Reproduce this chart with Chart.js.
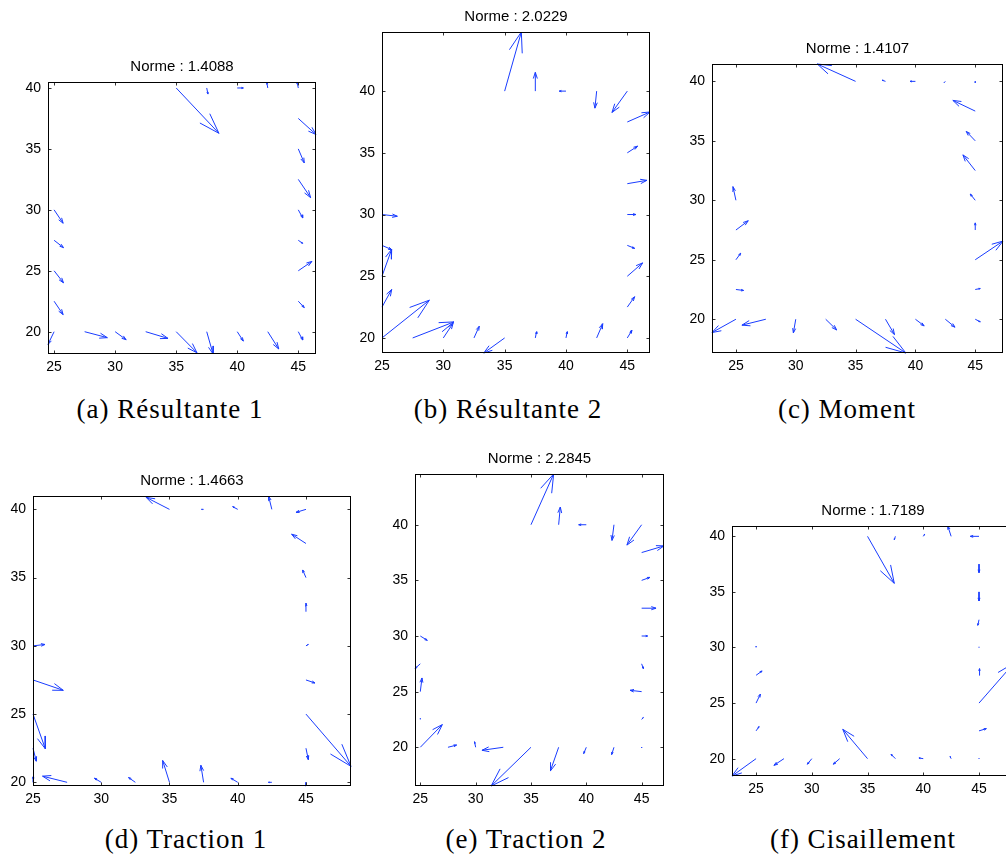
<!DOCTYPE html>
<html>
<head>
<meta charset="utf-8">
<script src="https://cdn.jsdelivr.net/npm/chart.js@4.4.1/dist/chart.umd.min.js"></script>
<style>
  html, body { margin: 0; padding: 0; background: #fff; width: 1006px; height: 860px; overflow: hidden; }
  canvas { position: absolute; }
  .cap {
    position: absolute;
    font-family: "Liberation Serif", serif;
    font-size: 27px;
    line-height: 27px;
    letter-spacing: 1px;
    white-space: nowrap;
    transform: translateX(-50%);
    color: #000;
  }
</style>
</head>
<body>

<script>
// points on the border of the square, where the arrows start
// bottom row, right column, top row, left column
const px = [25, 27.5, 30, 32.5, 35, 37.5, 40, 42.5, 45,
            45, 45, 45, 45, 45, 45, 45, 45,
            42.5, 40, 37.5, 35, 32.5, 30, 27.5, 25,
            25, 25, 25, 25, 25, 25, 25];
const py = [20, 20, 20, 20, 20, 20, 20, 20, 20,
            22.5, 25, 27.5, 30, 32.5, 35, 37.5, 40,
            40, 40, 40, 40, 40, 40, 40, 40,
            37.5, 35, 32.5, 30, 27.5, 25, 22.5];

// (a) Resultante 1
const uA = [-0.5, 1.86, 0.9, 1.83, 1.7, 0.52, 0.5, 0.9, 0.36,
            0.49, 1.12, 0.36, 0.36, 1.01, 0.49, 1.45, -0.1,
            -0.08, 0.5, 0.1, 3.5, 0, 0, 0, 0,
            0, 0, 0, 0.74, 0.77, 0.77, 0.74];
const vA = [-1.04, -0.49, -0.66, -0.55, -1.73, -1.83, -0.77, -1.42, -0.68,
            -0.52, 0.77, -0.25, -0.66, -1.5, -1.15, -1.32, 0.49,
            0.45, 0, -0.5, -3.72, 0, 0, 0, 0,
            0, 0, 0, -1.1, -0.6, -0.99, -1.1];

// (b) Resultante 2
const uB = [3.86, 3.37, 0.8, 0.43, -1.7, 0.1, 0.1, 0.5, 0.38,
            0.6, 1.25, 0.6, 0.7, 1.6, 0.84, 1.85, -1.25,
            -0.14, -0.55, 0, 1.36, 0, 0, 0, 0,
            0, 0, 0, 1.25, 0.8, 0.79, 0.79];
const vB = [3.06, 1.3, 1.2, 0.95, -1.22, 0.5, 0.5, 1.15, 0.62,
            0.84, 1.08, -0.24, 0, 0.27, 0.54, 0.81, -1.73,
            -1.38, 0, 1.52, 4.79, 0, 0, 0, 0,
            0, 0, 0, -0.14, -0.35, 2.19, 1.43];

// (c) Moment
const uC = [-2.0, -2.0, -0.2, 0.92, 4.2, 0.75, 0.73, 0.81, 0.42,
            0.42, 2.32, 0, -0.42, -1.03, -0.75, -1.87, 0,
            -0.1, -0.45, -0.28, -3.2, 0, 0, 0, 0,
            0, 0, 0, -0.25, 1.03, 0.4, 0.64];
const vC = [-1.12, -0.5, -1.15, -0.9, -2.84, -1.29, -0.56, -0.67, -0.22,
            0.08, 1.57, 0.6, 0.53, 1.32, 0.79, 0.9, -0.1,
            -0.1, 0, 0.1, 1.46, 0, 0, 0, 0,
            0, 0, 0, 1.15, 0.78, 0.55, -0.08];

// (d) Traction 1
const uD = [0, -1.8, -0.5, -0.5, -0.5, -0.2, -0.5, -0.25, 0,
            0.17, 3.3, 0.66, 0.17, 0, -0.24, -1.05, -0.73,
            -0.24, -0.37, -0.15, -1.71, 0, 0, 0, 0,
            0, 0, 0, 0.88, 2.22, 0.9, 0.24];
const vD = [0.4, 0.45, 0.3, 0.35, 1.6, 1.25, 0.3, 0, -0.27,
            -0.83, -3.83, -0.22, 0.1, 0.63, 0.56, 0.68, -0.22,
            0.98, 0.2, 0, 0.88, 0, 0, 0, 0,
            0, 0, 0, 0.1, -0.76, -2.54, -0.95];

// (e) Traction 2
const uE = [1.99, 0.78, -0.1, -1.93, -3.6, -0.75, -0.24, -0.21, 0,
            0.15, -1.05, 0.15, 0.54, 1.3, 0.75, 2.02, -1.33,
            -0.18, -0.69, 0.15, 2.05, 0, 0, 0, 0,
            0, 0, 0, 0.63, -0.48, 0.15, 0];
const vE = [2.04, 0.2, 0.5, -0.27, -3.48, -2.13, -0.57, -0.66, -0.05,
            0.18, 0.12, -0.42, 0, 0, 0.27, 0.6, -1.83,
            -1.41, 0, 1.59, 4.56, 0, 0, 0, 0,
            0, 0, 0, -0.39, -0.42, 1.23, 0.1];

// (f) Cisaillement
const uF = [-2.16, -0.9, -0.4, -0.57, -2.22, -0.39, -0.39, -0.1, 0,
            0.66, 3.14, 0.05, 0, -0.1, 0, 0, -0.78,
            -0.3, 0.12, -0.1, 2.4, 0, 0, 0, 0,
            0, 0, 0, 0, 0.54, 0.39, 0.27];
const vF = [-1.56, -0.6, -0.5, -0.5, 2.64, 0.39, 0.06, 0.2, 0.05,
            0.2, 3.6, 0.6, 0.05, -0.5, -0.8, -0.75, 0,
            0.93, 0.18, -0.3, -4.23, 0, 0, 0, 0,
            0, 0, 0, 0.1, 0.39, 0.81, 0.39];

const xTicks = [25, 30, 35, 40, 45];
const yTicks = [20, 25, 30, 35, 40];

const titles = ['Norme : 1.4088', 'Norme : 2.0229', 'Norme : 1.4107',
                'Norme : 1.4663', 'Norme : 2.2845', 'Norme : 1.7189'];
const captions = ['(a) Résultante 1', '(b) Résultante 2', '(c) Moment',
                  '(d) Traction 1', '(e) Traction 2', '(f) Cisaillement'];

// axis limits (tight around the arrows, like matlab)
const xLims = [[24.5, 46.45], [25, 46.85], [23, 47.32], [25, 48.3], [24.52, 47.02], [22.84, 48.14]];
const yLims = [[18.17, 40.49], [18.78, 44.79], [17.16, 41.46], [19.73, 40.98], [16.52, 44.56], [18.44, 40.93]];

const us = [uA, uB, uC, uD, uE, uF];
const vs = [vA, vB, vC, vD, vE, vF];

// where each plot box sits on the page: left, top, right, bottom
const boxes = [[48, 82, 316, 354], [382, 32, 650, 353], [712, 64, 1003, 353],
               [33, 496, 351, 786], [415, 474, 664, 786], [732, 526, 1014, 776]];
const capPos = [[170, 396], [508, 396], [847, 396], [186, 826], [526, 826], [863, 826]];

const BLUE = 'rgb(25,60,255)';
const Y_W = 40, X_H = 24, T_H = 23, PAD_R = 4;

// matlab style arrows : shaft + two head lines, gaps in between
function arrowData(u, v) {
  const a = 0.33, b = 0.33;
  let pts = [];
  for (let i = 0; i < px.length; i++) {
    if (u[i] === 0 && v[i] === 0) continue;
    let x1 = px[i] + u[i], y1 = py[i] + v[i];
    pts.push({ x: px[i], y: py[i] }, { x: x1, y: y1 }, { x: x1, y: null });
    pts.push({ x: x1 - a * (u[i] + b * v[i]), y: y1 - a * (v[i] - b * u[i]) });
    pts.push({ x: x1, y: y1 });
    pts.push({ x: x1 - a * (u[i] - b * v[i]), y: y1 - a * (v[i] + b * u[i]) });
    pts.push({ x: x1, y: null });
  }
  return pts;
}

// frame with inner ticks on all four sides
const boxPlugin = {
  id: 'box',
  afterDraw(chart) {
    const ctx = chart.ctx;
    const a = chart.chartArea;
    const x = chart.scales.x, y = chart.scales.y;
    let l = Math.round(a.left) + 0.5, r = Math.round(a.right) - 0.5;
    let t = Math.round(a.top) + 0.5, btm = Math.round(a.bottom) - 0.5;
    ctx.save();
    ctx.strokeStyle = '#333';
    ctx.lineWidth = 1;
    ctx.beginPath();
    x.ticks.forEach(tk => {
      let p = Math.round(x.getPixelForValue(tk.value)) + 0.5;
      ctx.moveTo(p, btm); ctx.lineTo(p, btm - 3);
      ctx.moveTo(p, t); ctx.lineTo(p, t + 3);
    });
    y.ticks.forEach(tk => {
      let p = Math.round(y.getPixelForValue(tk.value)) + 0.5;
      ctx.moveTo(l, p); ctx.lineTo(l + 3, p);
      ctx.moveTo(r, p); ctx.lineTo(r - 3, p);
    });
    ctx.stroke();
    ctx.strokeStyle = '#000';
    ctx.strokeRect(l, t, r - l, btm - t);
    ctx.restore();
  }
};

function makePanel(k) {
  const [L, T, R, B] = boxes[k];
  let canvas = document.createElement('canvas');
  canvas.width = Y_W + (R - L) + PAD_R;
  canvas.height = T_H + (B - T) + X_H;
  canvas.style.left = (L - Y_W) + 'px';
  canvas.style.top = (T - T_H) + 'px';
  document.body.appendChild(canvas);

  new Chart(canvas, {
    type: 'scatter',
    data: {
      datasets: [{
        data: arrowData(us[k], vs[k]),
        showLine: true,
        spanGaps: false,
        borderColor: BLUE,
        borderWidth: 1,
        pointRadius: 0,
        pointHoverRadius: 0,
        tension: 0,
        clip: false
      }]
    },
    options: {
      responsive: false,
      animation: false,
      devicePixelRatio: 1,
      events: [],
      layout: { padding: { left: 0, right: PAD_R, top: 0, bottom: 0 } },
      plugins: {
        legend: { display: false },
        tooltip: { enabled: false },
        title: {
          display: true,
          text: titles[k],
          fullSize: false,
          color: '#000',
          font: { family: 'Liberation Sans', size: 15, weight: 'normal', lineHeight: 1 },
          padding: { top: 0, bottom: 8 }
        }
      },
      scales: {
        x: {
          type: 'linear',
          min: xLims[k][0],
          max: xLims[k][1],
          grid: { display: false, drawTicks: false },
          border: { display: false },
          afterBuildTicks: s => { s.ticks = xTicks.map(v => ({ value: v })); },
          afterFit: s => { s.height = X_H; },
          ticks: {
            color: '#000',
            padding: 5,
            maxRotation: 0,
            font: { family: 'Liberation Sans', size: 14 }
          }
        },
        y: {
          type: 'linear',
          min: yLims[k][0],
          max: yLims[k][1],
          grid: { display: false, drawTicks: false },
          border: { display: false },
          afterBuildTicks: s => { s.ticks = yTicks.map(v => ({ value: v })); },
          afterFit: s => { s.width = Y_W; },
          ticks: {
            color: '#000',
            padding: 7,
            font: { family: 'Liberation Sans', size: 14 }
          }
        }
      }
    },
    plugins: [boxPlugin]
  });

  let cap = document.createElement('div');
  cap.className = 'cap';
  cap.textContent = captions[k];
  cap.style.left = capPos[k][0] + 'px';
  cap.style.top = capPos[k][1] + 'px';
  document.body.appendChild(cap);
}

for (let k = 0; k < 6; k++) makePanel(k);
</script>
</body>
</html>
